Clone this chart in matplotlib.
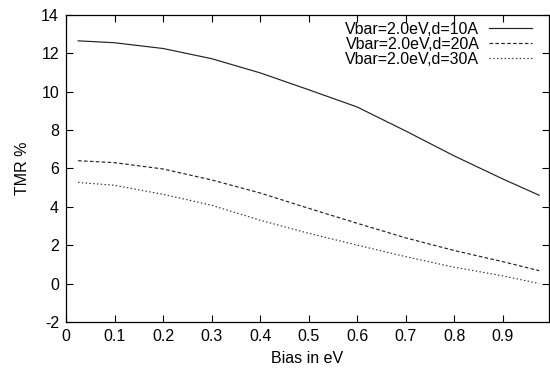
import matplotlib
matplotlib.use("Agg")
import matplotlib.pyplot as plt

plt.rcParams['font.family'] = ['Liberation Sans', 'DejaVu Sans']
plt.rcParams['axes.unicode_minus'] = False

# Bias values (eV)
bias = [0.025, 0.1, 0.2, 0.3, 0.4, 0.5, 0.6, 0.7, 0.8, 0.9, 0.975]

# TMR % for the three barrier widths
tmr_10 = [12.65, 12.55, 12.25, 11.72, 10.98, 10.1, 9.2, 7.95, 6.65, 5.45, 4.6]
tmr_20 = [6.4, 6.3, 5.97, 5.4, 4.72, 3.92, 3.14, 2.38, 1.72, 1.14, 0.67]
tmr_30 = [5.27, 5.12, 4.65, 4.08, 3.3, 2.62, 2.0, 1.4, 0.85, 0.4, 0.0]

labels = ["Vbar=2.0eV,d=10A", "Vbar=2.0eV,d=20A", "Vbar=2.0eV,d=30A"]
xticks = [0, 0.1, 0.2, 0.3, 0.4, 0.5, 0.6, 0.7, 0.8, 0.9]
yticks = [-2, 0, 2, 4, 6, 8, 10, 12, 14]

fs = 11.5

fig = plt.figure(figsize=(5.5, 3.73), dpi=100)
ax = fig.add_axes([0.120, 0.137, 0.878, 0.823])

ax.plot(bias, tmr_10, color="#222222", lw=0.85, label=labels[0])
ax.plot(bias, tmr_20, color="#222222", lw=0.85, dashes=(3, 2), label=labels[1])
ax.plot(bias, tmr_30, color="#333333", lw=0.85, dashes=(1.2, 2), label=labels[2])

ax.set_xlim(0, 0.995)
ax.set_ylim(-2, 14)
ax.set_xticks(xticks)
ax.set_xticklabels([str(t) if t else "0" for t in xticks])
ax.set_yticks(yticks)
ax.tick_params(direction="in", length=5, width=0.8, top=True, right=True,
               labelsize=fs, pad=5)
for s in ax.spines.values():
    s.set_linewidth(0.9)

ax.set_xlabel("Bias in eV", fontsize=fs, labelpad=5)
ax.set_ylabel("TMR %", fontsize=fs, labelpad=8)

ax.legend(loc="upper right", frameon=False, markerfirst=False, fontsize=fs,
          handlelength=2.7, handletextpad=0.6, labelspacing=0.0,
          borderaxespad=0.2, bbox_to_anchor=(0.985, 1.008))

fig.savefig("out.png", dpi=100)
